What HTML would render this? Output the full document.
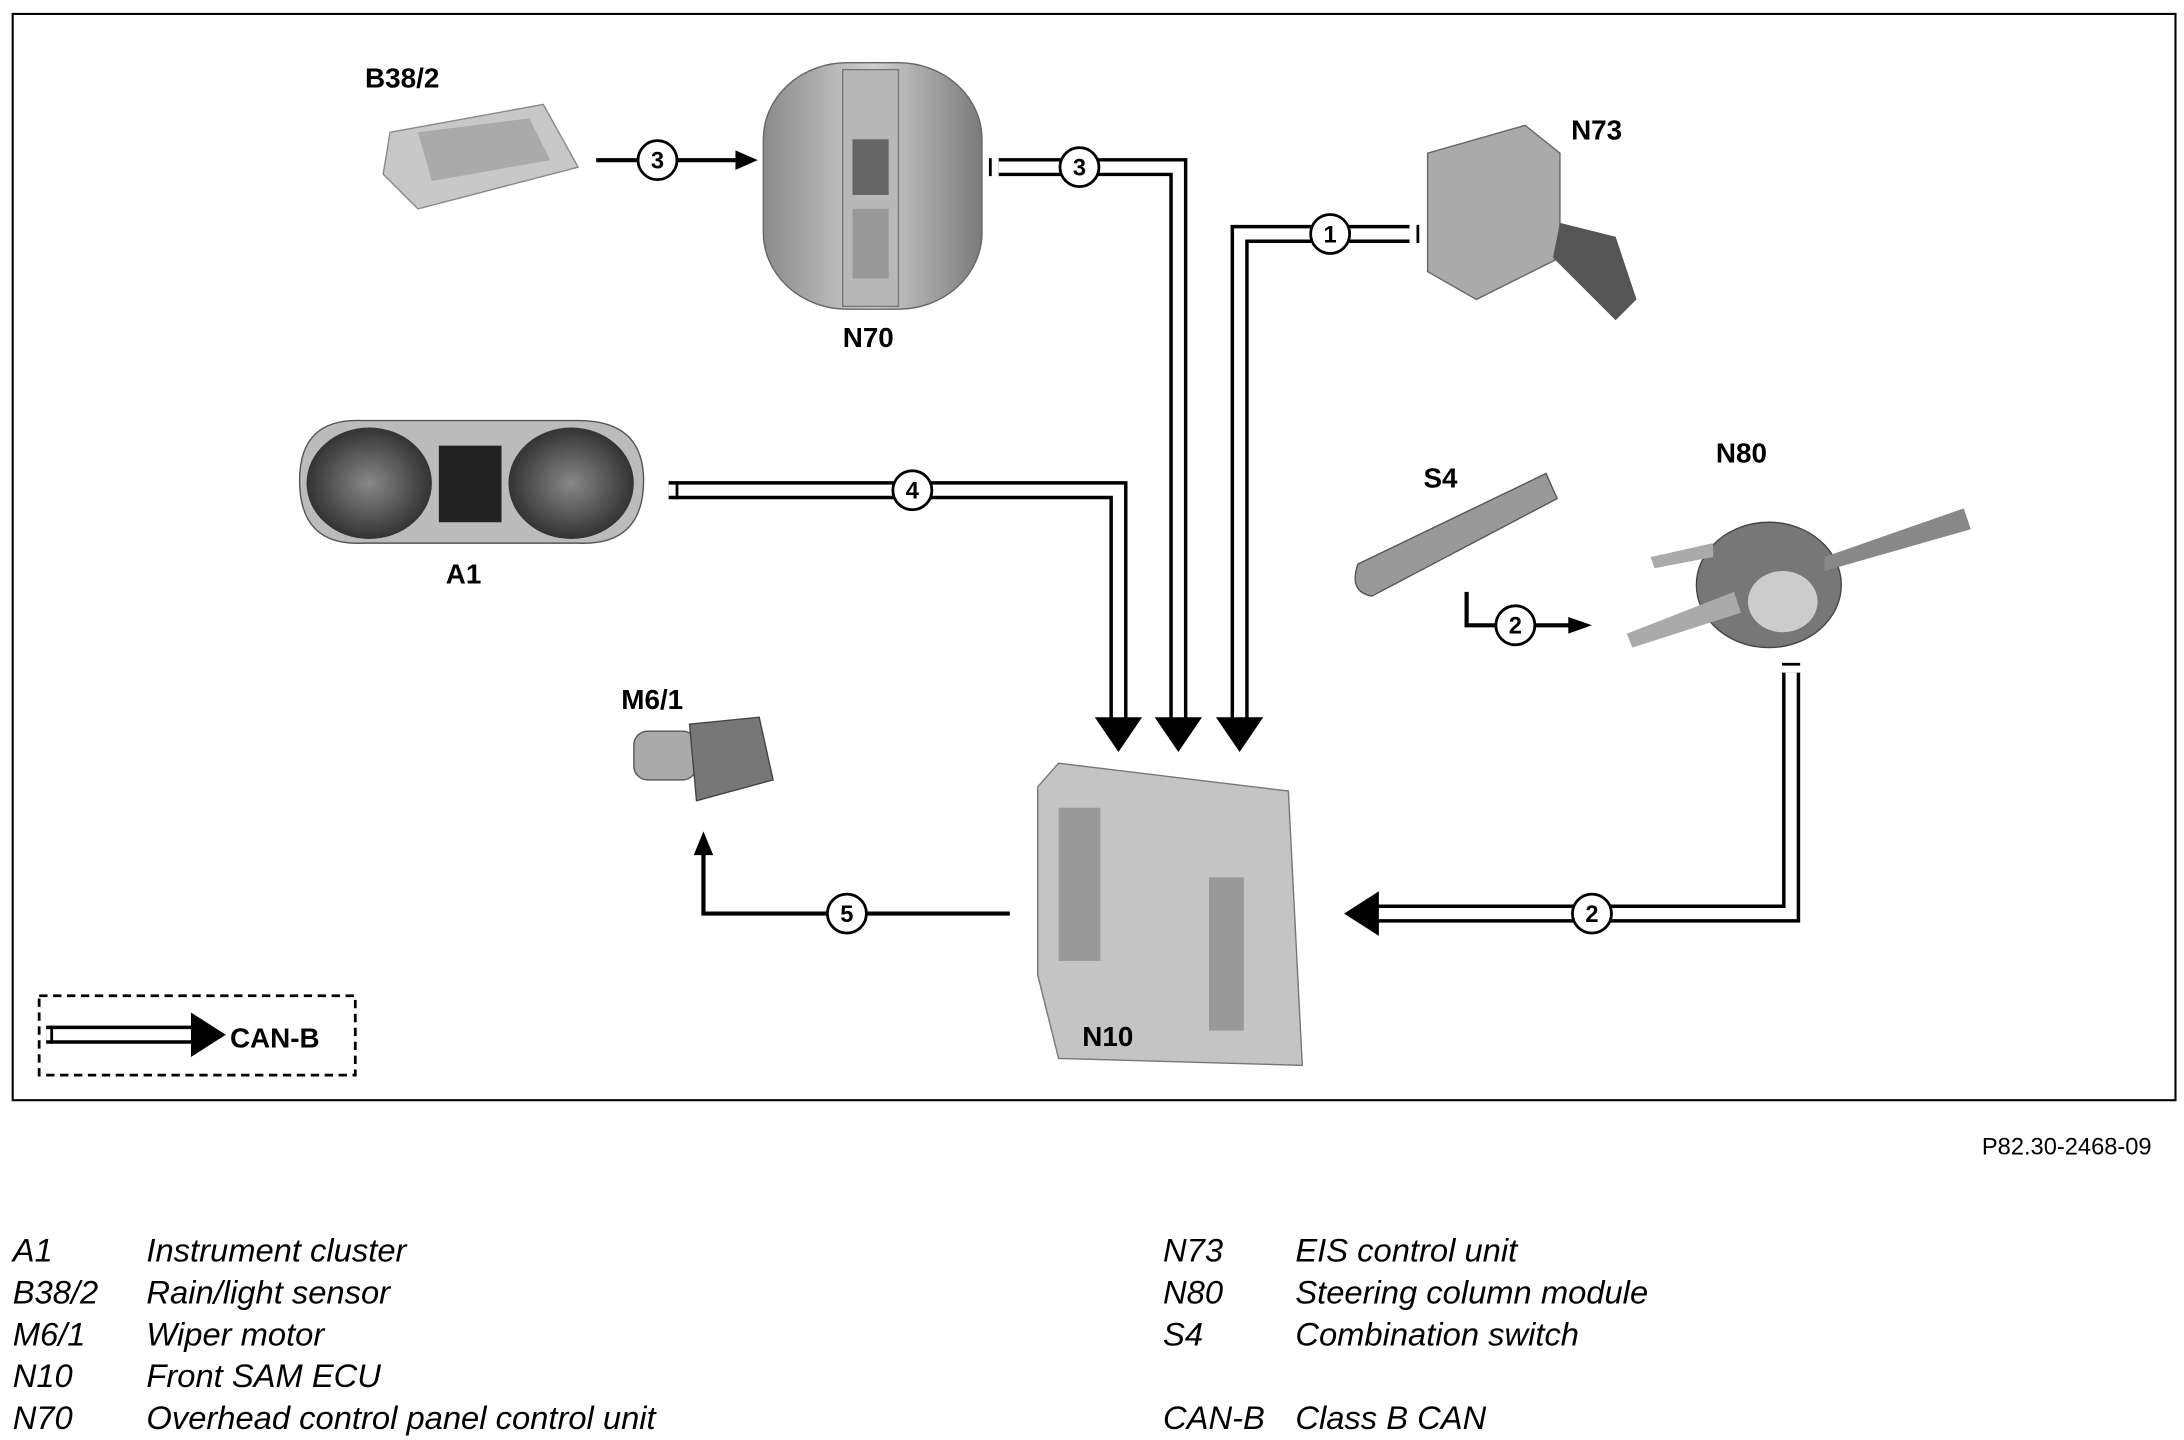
<!DOCTYPE html>
<html><head><meta charset="utf-8"><style>
html,body{margin:0;padding:0;background:#fff;width:2184px;height:1440px;overflow:hidden}
svg{display:block}
text{font-family:"Liberation Sans",Arial,sans-serif}
.b{font-weight:bold;font-size:20px}
.l{font-style:italic;font-size:23.5px}
</style></head><body>
<svg width="2184" height="1440" viewBox="0 0 1568 1034" xmlns="http://www.w3.org/2000/svg">
<defs>
<linearGradient id="g" x1="0" x2="1"><stop offset="0" stop-color="#8a8a8a"/><stop offset=".5" stop-color="#d0d0d0"/><stop offset="1" stop-color="#7a7a7a"/></linearGradient>
<radialGradient id="r"><stop offset="0" stop-color="#888"/><stop offset="1" stop-color="#333"/></radialGradient>
</defs>
<rect x="9" y="10" width="1553" height="780" fill="#fff" stroke="#000" stroke-width="1.5"/>

<path d="M280 95 L390 75 L415 120 L300 150 L275 125 Z" fill="#c8c8c8" stroke="#888"/>
<path d="M300 95 L380 85 L395 115 L310 130Z" fill="#aaa"/>
<rect x="548" y="45" width="157" height="177" rx="60" ry="55" fill="url(#g)" stroke="#666"/>
<rect x="605" y="50" width="40" height="170" fill="#b8b8b8" stroke="#777"/>
<rect x="612" y="100" width="26" height="40" fill="#666"/>
<rect x="612" y="150" width="26" height="50" fill="#999"/>
<path d="M1025 110 L1095 90 L1120 110 L1120 185 L1060 215 L1025 195Z" fill="#aaa" stroke="#666"/>
<path d="M1120 160 L1160 170 L1175 215 L1160 230 L1115 185Z" fill="#555"/>
<path d="M215 345 Q215 300 260 302 L415 302 Q462 302 462 345 Q462 392 415 390 L260 390 Q215 392 215 345Z" fill="#bbb" stroke="#555"/>
<ellipse cx="265" cy="347" rx="45" ry="40" fill="url(#r)"/>
<ellipse cx="410" cy="347" rx="45" ry="40" fill="url(#r)"/>
<rect x="315" y="320" width="45" height="55" fill="#222"/>
<path d="M975 405 L1110 340 L1118 358 L985 428 Q968 425 975 405Z" fill="#999" stroke="#555"/>
<ellipse cx="1270" cy="420" rx="52" ry="45" fill="#777" stroke="#444"/>
<ellipse cx="1280" cy="432" rx="25" ry="22" fill="#ccc"/>
<path d="M1310 400 L1410 365 L1415 380 L1310 410Z" fill="#888"/>
<path d="M1168 455 L1245 425 L1250 440 L1172 465Z" fill="#aaa"/>
<path d="M1185 400 L1230 390 L1230 400 L1188 408Z" fill="#aaa"/>
<rect x="455" y="525" width="45" height="35" rx="10" fill="#aaa" stroke="#555"/>
<path d="M495 520 L545 515 L555 560 L500 575Z" fill="#777" stroke="#444"/>
<path d="M760 548 L925 568 L935 765 L760 760 L745 700 L745 565Z" fill="#c4c4c4" stroke="#777"/>
<rect x="760" y="580" width="30" height="110" fill="#999"/>
<rect x="868" y="630" width="25" height="110" fill="#999"/>

<g fill="none" stroke-linejoin="miter">
<path d="M717 120 H846 V517" stroke="#000" stroke-width="13"/>
<path d="M717 120 H846 V517" stroke="#fff" stroke-width="8"/>
<path d="M1012 168 H890 V517" stroke="#000" stroke-width="13"/>
<path d="M1012 168 H890 V517" stroke="#fff" stroke-width="8"/>
<path d="M480 352 H803 V517" stroke="#000" stroke-width="13"/>
<path d="M480 352 H803 V517" stroke="#fff" stroke-width="8"/>
<path d="M1286 483 V656 H988" stroke="#000" stroke-width="13"/>
<path d="M1286 483 V656 H988" stroke="#fff" stroke-width="8"/>
<path d="M33 743 H138" stroke="#000" stroke-width="13"/>
<path d="M33 743 H138" stroke="#fff" stroke-width="8"/>
</g>
<path d="M711 113.5 V126.5 M1018 161.5 V174.5 M486 345.5 V358.5 M1279.5 477 H1292.5 M37 736.5 V749.5" stroke="#000" stroke-width="2"/>
<polygon points="786,515 820,515 803,540" fill="#000"/>
<polygon points="829,515 863,515 846,540" fill="#000"/>
<polygon points="873,515 907,515 890,540" fill="#000"/>
<polygon points="990,640 990,672 965,656" fill="#000"/>
<polygon points="137,727 137,759 162,743" fill="#000"/>

<g stroke="#000" stroke-width="3" fill="none">
<path d="M428 115 H530"/>
<path d="M1053 425 V449 H1128"/>
<path d="M725 656 H505 V612"/>
</g>
<polygon points="528,108 544,115 528,122" fill="#000"/>
<polygon points="1126,443 1143,449 1126,455" fill="#000"/>
<polygon points="498,614 505,597 512,614" fill="#000"/>

<g fill="#fff" stroke="#000" stroke-width="2">
<circle cx="472" cy="115" r="14"/><circle cx="775" cy="120" r="14"/><circle cx="955" cy="168" r="14"/>
<circle cx="655" cy="352" r="14"/><circle cx="1088" cy="449" r="14"/><circle cx="1143" cy="656" r="14"/>
<circle cx="608" cy="656" r="14"/>
</g>
<g font-weight="bold" font-size="17" text-anchor="middle">
<text x="472" y="121">3</text><text x="775" y="126">3</text><text x="955" y="174">1</text>
<text x="655" y="358">4</text><text x="1088" y="455">2</text><text x="1143" y="662">2</text>
<text x="608" y="662">5</text>
</g>

<rect x="28" y="715" width="227" height="57" fill="none" stroke="#000" stroke-width="2" stroke-dasharray="6,4"/>
<text x="165" y="752" class="b">CAN-B</text>

<text x="262" y="63" class="b">B38/2</text>
<text x="605" y="249" class="b">N70</text>
<text x="1128" y="100" class="b">N73</text>
<text x="320" y="419" class="b">A1</text>
<text x="1022" y="350" class="b">S4</text>
<text x="1232" y="332" class="b">N80</text>
<text x="446" y="509" class="b">M6/1</text>
<text x="777" y="751" class="b">N10</text>

<text x="1423" y="829" font-size="17">P82.30-2468-09</text>

<g>
<text x="9" y="906" class="l">A1</text><text x="105" y="906" class="l">Instrument cluster</text>
<text x="9" y="936" class="l">B38/2</text><text x="105" y="936" class="l">Rain/light sensor</text>
<text x="9" y="966" class="l">M6/1</text><text x="105" y="966" class="l">Wiper motor</text>
<text x="9" y="996" class="l">N10</text><text x="105" y="996" class="l">Front SAM ECU</text>
<text x="9" y="1026" class="l">N70</text><text x="105" y="1026" class="l">Overhead control panel control unit</text>
<text x="835" y="906" class="l">N73</text><text x="930" y="906" class="l">EIS control unit</text>
<text x="835" y="936" class="l">N80</text><text x="930" y="936" class="l">Steering column module</text>
<text x="835" y="966" class="l">S4</text><text x="930" y="966" class="l">Combination switch</text>
<text x="835" y="1026" class="l">CAN-B</text><text x="930" y="1026" class="l">Class B CAN</text>
</g>
</svg>
</body></html>
